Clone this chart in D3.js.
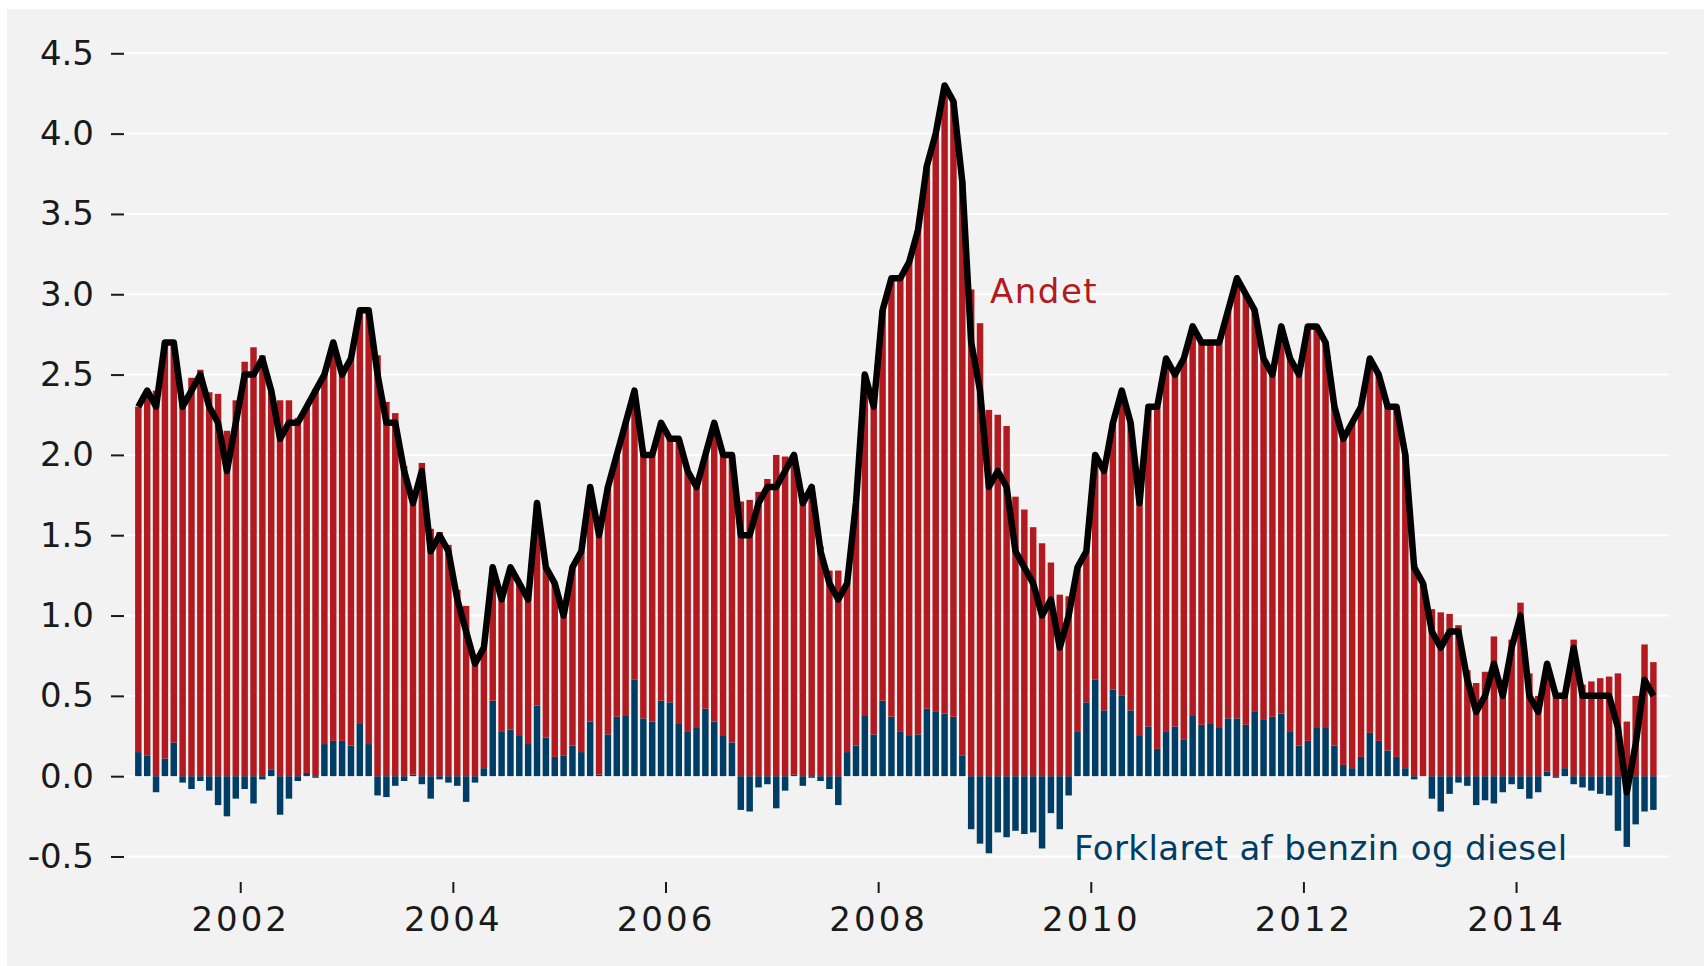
<!DOCTYPE html>
<html>
<head>
<meta charset="utf-8">
<script src="https://cdn.jsdelivr.net/npm/d3@7"></script>
<style>
  html, body { margin: 0; padding: 0; background: #fff; }
  svg text { font-family: "DejaVu Sans", sans-serif; }
</style>
</head>
<body>
<div id="chart"></div>
<script>
// ── data: monthly, Jan 2001 – Apr 2015 ──
const startYear = 2001;

// total inflation (black line), pct
const total = [
  2.3,2.4,2.3,2.7,2.7,2.3,2.4,2.5,2.3,2.2,1.9,2.2,2.5,2.5,2.6,2.4,2.1,2.2,2.2,2.3,2.4,2.5,2.7,2.5,2.6,2.9,2.9,2.5,2.2,
  2.2,1.9,1.7,1.9,1.4,1.5,1.4,1.1,0.9,0.7,0.8,1.3,1.1,1.3,1.2,1.1,1.7,1.3,1.2,1.0,1.3,1.4,1.8,1.5,1.8,2.0,2.2,2.4,2.0,
  2.0,2.2,2.1,2.1,1.9,1.8,2.0,2.2,2.0,2.0,1.5,1.5,1.7,1.8,1.8,1.9,2.0,1.7,1.8,1.4,1.2,1.1,1.2,1.7,2.5,2.3,2.9,3.1,3.1,
  3.2,3.4,3.8,4.0,4.3,4.2,3.7,2.7,2.4,1.8,1.9,1.8,1.4,1.3,1.2,1.0,1.1,0.8,1.0,1.3,1.4,2.0,1.9,2.2,2.4,2.2,1.7,2.3,2.3,
  2.6,2.5,2.6,2.8,2.7,2.7,2.7,2.9,3.1,3.0,2.9,2.6,2.5,2.8,2.6,2.5,2.8,2.8,2.7,2.3,2.1,2.2,2.3,2.6,2.5,2.3,2.3,2.0,
  1.3,1.2,0.9,0.8,0.9,0.9,0.6,0.4,0.5,0.7,0.5,0.8,1.0,0.5,0.4,0.7,0.5,0.5,0.8,0.5,0.5,0.5,0.5,0.3,-0.1,0.2,0.6,0.5
];

// bidrag fra benzin og diesel (blå søjler)
const fuel = [
  0.15,0.13,-0.10,0.11,0.21,-0.04,-0.08,-0.03,-0.09,-0.18,-0.25,-0.14,-0.08,-0.17,-0.02,0.04,-0.24,-0.14,-0.03,0.02,-0.01,0.20,0.22,0.22,0.19,0.33,0.20,-0.12,-0.13,
  -0.06,-0.03,0.01,-0.05,-0.14,-0.02,-0.04,-0.06,-0.16,-0.04,0.05,0.47,0.28,0.29,0.25,0.20,0.44,0.24,0.12,0.13,0.19,0.15,0.34,0.01,0.26,0.37,0.38,0.60,0.36,
  0.34,0.47,0.46,0.33,0.28,0.30,0.42,0.34,0.25,0.21,-0.21,-0.22,-0.07,-0.05,-0.20,-0.09,0.01,-0.06,-0.01,-0.03,-0.08,-0.18,0.15,0.19,0.38,0.26,0.47,0.37,0.28,
  0.25,0.26,0.42,0.40,0.39,0.37,0.13,-0.33,-0.42,-0.48,-0.35,-0.38,-0.34,-0.36,-0.35,-0.45,-0.23,-0.33,-0.12,0.28,0.46,0.60,0.41,0.54,0.50,0.41,0.25,0.31,0.17,
  0.28,0.31,0.23,0.38,0.32,0.33,0.30,0.36,0.36,0.32,0.40,0.35,0.37,0.39,0.28,0.19,0.22,0.30,0.30,0.19,0.07,0.05,0.12,0.27,0.22,0.16,0.12,0.05,
  -0.02,0.00,-0.14,-0.22,-0.11,-0.04,-0.06,-0.18,-0.15,-0.17,-0.10,-0.05,-0.08,-0.14,-0.10,0.03,-0.01,0.05,-0.05,-0.07,-0.09,-0.11,-0.12,-0.34,-0.44,-0.30,-0.22,-0.21
];

const yTicks = [-0.5, 0, 0.5, 1, 1.5, 2, 2.5, 3, 3.5, 4, 4.5];
const xTicks = [2002, 2004, 2006, 2008, 2010, 2012, 2014];
const labelAndet = "Andet";
const labelFuel = "Forklaret af benzin og diesel";

const red = "#b31a20";
const blue = "#003d64";

// ── setup ──
const width = 1704, height = 966;
const svg = d3.select("#chart").append("svg")
  .attr("width", width)
  .attr("height", height);

// grå baggrund
svg.append("rect")
  .attr("x", 7).attr("y", 9)
  .attr("width", width - 7).attr("height", height - 9)
  .attr("fill", "#f2f2f2");

const n = total.length;
const x0 = 133.9, step = 8.86;
const pad = 0.27;

const x = d3.scaleBand()
  .domain(d3.range(n))
  .range([x0, x0 + n * step])
  .paddingInner(pad)
  .paddingOuter(pad / 2);

const xYear = d3.scaleLinear()
  .domain([startYear, startYear + n / 12])
  .range([x0, x0 + n * step]);

const y = d3.scaleLinear()
  .domain([-0.5, 4.5])
  .range([856.5, 53.3]);

// gitterlinjer
svg.append("g")
  .selectAll("line")
  .data(yTicks)
  .join("line")
  .attr("x1", 124).attr("x2", 1669)
  .attr("y1", d => y(d)).attr("y2", d => y(d))
  .attr("stroke", "#fff")
  .attr("stroke-width", 2);

// y-akse
const fmt = d3.formatLocale({ decimal: ".", thousands: ",", grouping: [3], currency: ["", ""], minus: "-" }).format(".1f");
const yAxis = svg.append("g")
  .attr("transform", "translate(124,0)")
  .call(d3.axisLeft(y).tickValues(yTicks).tickSize(13).tickPadding(17).tickFormat(fmt));
yAxis.select(".domain").remove();
yAxis.selectAll(".tick line").attr("stroke", "#1a1a1a").attr("stroke-width", 2);
yAxis.selectAll(".tick text")
  .attr("fill", "#1a1a1a")
  .style("font-size", "34px")
  .style("font-family", "DejaVu Sans, sans-serif");

// x-akse
const xAxis = svg.append("g")
  .attr("transform", "translate(0,882)")
  .call(d3.axisBottom(xYear).tickValues(xTicks).tickSize(11).tickPadding(14).tickFormat(d3.format("d")));
xAxis.select(".domain").remove();
xAxis.selectAll(".tick line").attr("stroke", "#1a1a1a").attr("stroke-width", 2);
xAxis.selectAll(".tick text")
  .attr("fill", "#1a1a1a")
  .style("font-size", "34px")
  .style("letter-spacing", "3px")
  .style("font-family", "DejaVu Sans, sans-serif");

// stablede søjler: benzin/diesel + andet
const rows = total.map((t, i) => ({ i, fuel: fuel[i], andet: +(t - fuel[i]).toFixed(2) }));
const stack = d3.stack().keys(["fuel", "andet"]).offset(d3.stackOffsetDiverging);
const series = stack(rows);
const colors = { fuel: blue, andet: red };

svg.append("g")
  .selectAll("g")
  .data(series)
  .join("g")
  .attr("fill", d => colors[d.key])
  .selectAll("rect")
  .data(d => d)
  .join("rect")
  .attr("x", d => x(d.data.i))
  .attr("width", x.bandwidth())
  .attr("y", d => y(Math.max(d[0], d[1])))
  .attr("height", d => Math.abs(y(d[0]) - y(d[1])));

// inflationslinje
const line = d3.line()
  .x((d, i) => x(i) + x.bandwidth() / 2)
  .y(d => y(d));

svg.append("path")
  .datum(total)
  .attr("d", line)
  .attr("fill", "none")
  .attr("stroke", "#000")
  .attr("stroke-width", 6.5)
  .attr("stroke-linejoin", "round");

// etiketter
svg.append("text")
  .attr("x", 990).attr("y", 303)
  .attr("fill", red)
  .style("font-size", "34px")
  .style("letter-spacing", "1.5px")
  .text(labelAndet);

svg.append("text")
  .attr("x", 1074).attr("y", 860)
  .attr("fill", blue)
  .style("font-size", "34px")
  .style("letter-spacing", "0.4px")
  .text(labelFuel);
</script>
</body>
</html>
